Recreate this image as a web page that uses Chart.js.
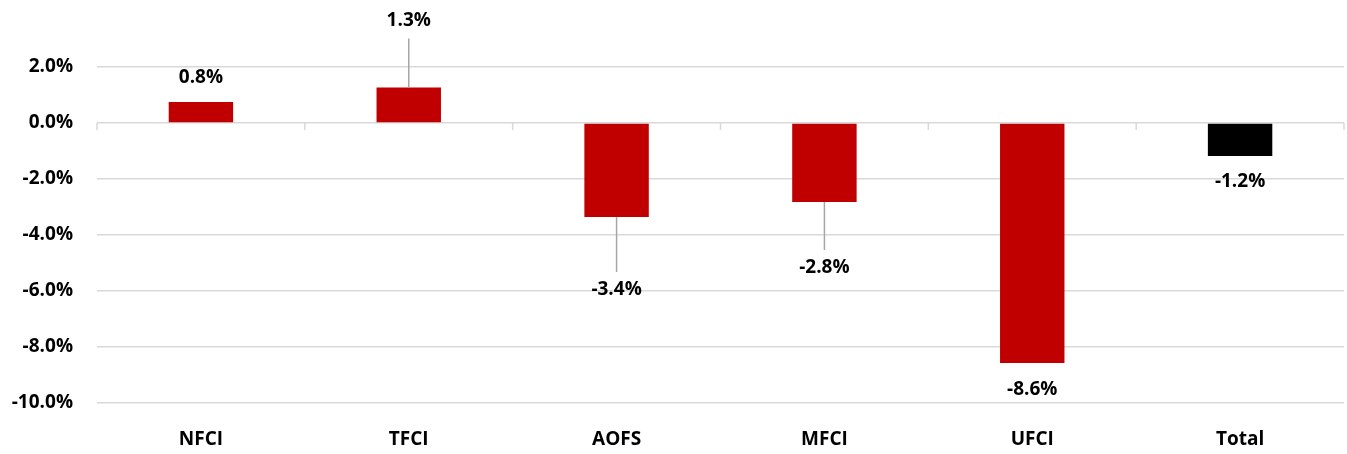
<!DOCTYPE html>
<html>
<head>
<meta charset="utf-8">
<script src="https://cdn.jsdelivr.net/npm/chart.js@4.4.1/dist/chart.umd.min.js"></script>
<style>
  html, body { margin: 0; padding: 0; background: #fff; }
  #wrap { width: 1347px; height: 454px; }
</style>
</head>
<body>
<div id="wrap"><canvas id="chart" width="1347" height="454"></canvas></div>
<script>
// categories and values (percent)
const categories = ["NFCI", "TFCI", "AOFS", "MFCI", "UFCI", "Total"];
const values = [0.75, 1.27, -3.36, -2.82, -8.57, -1.18];
const valueLabels = ["0.8%", "1.3%", "-3.4%", "-2.8%", "-8.6%", "-1.2%"];
const yTicks = [2, 0, -2, -4, -6, -8, -10];

// label placement (px from bar end), leaders drawn when far away
const labelOffsets = [-24, -67, 73, 66, 27, 26];
const barColors = ["#C00000", "#C00000", "#C00000", "#C00000", "#C00000", "#000000"];

const FONT = "'Open Sans', Lato, sans-serif";
const GRID = "#d9d9d9";

// small ticks on the zero line between categories
const categoryTicks = {
  id: "categoryTicks",
  afterDatasetsDraw(chart) {
    const { ctx, scales: { x, y } } = chart;
    const y0 = y.getPixelForValue(0);
    const half = (x.getPixelForValue(1) - x.getPixelForValue(0)) / 2;
    ctx.save();
    ctx.strokeStyle = GRID;
    ctx.lineWidth = 1.5;
    for (let i = 0; i <= categories.length; i++) {
      const px = x.getPixelForValue(0) - half + i * half * 2;
      ctx.beginPath();
      ctx.moveTo(px, y0);
      ctx.lineTo(px, y0 + 7);
      ctx.stroke();
    }
    ctx.restore();
  }
};

// value labels with leader lines
const valueLabelPlugin = {
  id: "valueLabels",
  afterDatasetsDraw(chart) {
    const { ctx } = chart;
    const meta = chart.getDatasetMeta(0);
    ctx.save();
    ctx.font = "bold 19px " + FONT;
    ctx.textAlign = "center";
    ctx.textBaseline = "middle";
    meta.data.forEach((bar, i) => {
      const off = labelOffsets[i];
      const ly = bar.y + off;
      if (Math.abs(off) > 40) {
        const dir = Math.sign(off);
        ctx.strokeStyle = "#a6a6a6";
        ctx.lineWidth = 1.5;
        ctx.beginPath();
        ctx.moveTo(bar.x, bar.y);
        ctx.lineTo(bar.x, ly - dir * 18);
        ctx.stroke();
      }
      ctx.fillStyle = "#000";
      ctx.fillText(valueLabels[i], bar.x, ly);
    });
    ctx.restore();
  }
};

new Chart(document.getElementById("chart"), {
  type: "bar",
  data: {
    labels: categories,
    datasets: [{
      data: values,
      backgroundColor: barColors,
      borderWidth: 0,
      categoryPercentage: 1,
      barPercentage: 0.31,
    }],
  },
  options: {
    responsive: false,
    animation: false,
    devicePixelRatio: 1,
    layout: { padding: { top: 67, right: 3, left: 0, bottom: 0 } },
    plugins: {
      legend: { display: false },
      tooltip: { enabled: false },
    },
    scales: {
      x: {
        grid: { display: false, drawTicks: false },
        border: { display: false },
        ticks: {
          color: "#000",
          font: { family: FONT, size: 19, weight: "bold" },
          padding: 25,
          maxRotation: 0,
        },
        afterFit: (s) => { s.height = 51; },
      },
      y: {
        min: -10,
        max: 2,
        afterBuildTicks: (s) => { s.ticks = yTicks.map(v => ({ value: v })); },
        grid: { color: GRID, lineWidth: 1.5, drawTicks: false },
        border: { display: false },
        ticks: {
          color: "#000",
          font: { family: FONT, size: 19, weight: "bold" },
          padding: 24,
          callback: (v) => v.toFixed(1) + "%",
        },
        afterFit: (s) => { s.width = 97; },
      },
    },
  },
  plugins: [categoryTicks, valueLabelPlugin],
});
</script>
</body>
</html>
